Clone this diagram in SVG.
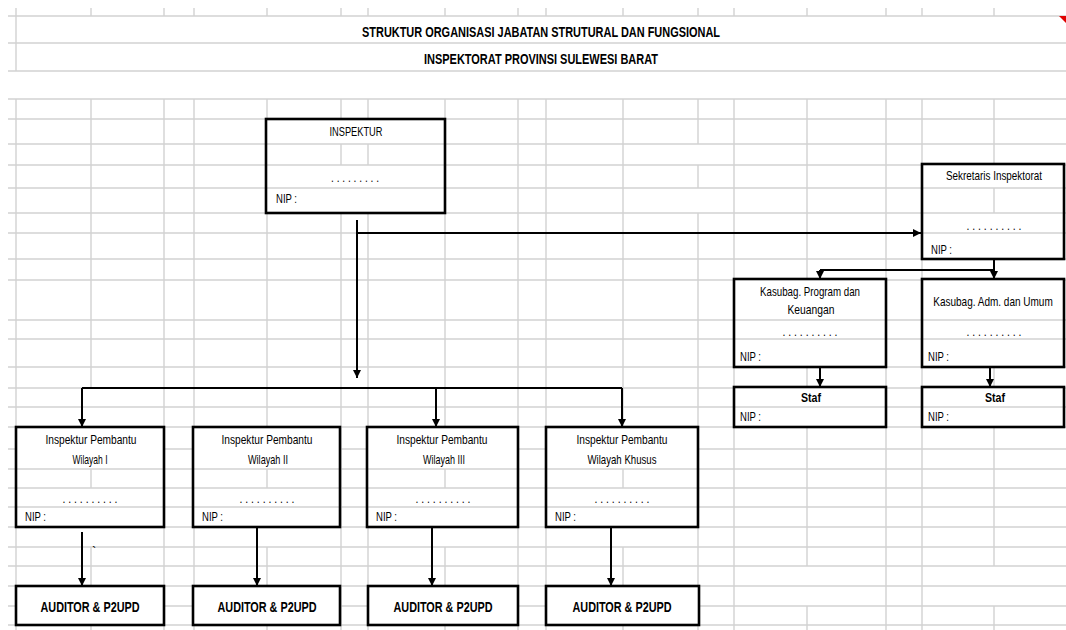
<svg xmlns="http://www.w3.org/2000/svg" width="1066" height="630" viewBox="0 0 1066 630">
<style>
.grid{stroke:#d2d2d2;stroke-width:1.4;fill:none}
.box{fill:none;stroke:#000;stroke-width:2.6}
.bg{fill:#fff;stroke:none}
.conn{stroke:#000;stroke-width:2;fill:none}
.t{font-family:"Liberation Sans Narrow","Liberation Sans",Arial,sans-serif;font-size:13px;fill:#000}
.c{text-anchor:middle}
.b{font-weight:bold}
.title{font-family:"Liberation Sans Narrow","Liberation Sans",Arial,sans-serif;font-size:15px;font-weight:bold;text-anchor:middle;fill:#000}
.aud{font-family:"Liberation Sans Narrow","Liberation Sans",Arial,sans-serif;font-size:15px;font-weight:bold;text-anchor:middle;fill:#000}
</style>
<defs>
<marker id="ah" markerUnits="userSpaceOnUse" markerWidth="9" markerHeight="9" refX="8" refY="4" orient="auto">
<path d="M0,0 L8,4 L0,8 z" fill="#000"/>
</marker>
</defs>
<rect x="0" y="0" width="1066" height="630" fill="#fff"/>
<g id="grid">
<path class="grid" d="M8 16H1066 M8 43H1066 M8 71H1066 M8 99H1066 M8 119H1066 M8 144H1066 M8 165H1066 M8 188H1066 M8 213H1066 M8 233H1066 M8 259H1066 M8 280H1066 M8 320H1066 M8 339H1066 M8 367H1066 M8 388H1066 M8 407H1066 M8 427H1066 M8 449H1066 M8 469H1066 M8 488H1066 M8 507H1066 M8 527H1066 M8 547H1066 M8 566H1066 M8 586H1066 M8 606H1066 M8 625H1066"/>
<path class="grid" d="M16 8V71 M16 99V630 M91 8V16 M91 99V388 M91 427V527 M91 547V630 M164 8V16 M164 99V630 M194 8V16 M194 99V630 M267 8V16 M267 99V527 M267 547V630 M341 8V16 M341 99V630 M368 8V16 M368 99V630 M445 8V16 M445 99V527 M445 547V630 M518 8V16 M518 99V630 M546 8V16 M546 99V630 M623 8V16 M623 99V527 M623 547V630 M698 8V16 M698 99V144 M698 165V188 M698 213V630 M734 8V16 M734 99V630 M807 8V16 M807 99V566 M807 606V630 M886 8V16 M886 99V630 M922 8V16 M922 99V630 M994 8V16 M994 99V566 M994 606V630"/>
<polygon points="1059,16 1066,16 1066,23" fill="#e00000"/>
</g>
<g id="titles">
<text class="title" x="541" y="37" textLength="358" lengthAdjust="spacingAndGlyphs">STRUKTUR ORGANISASI JABATAN STRUTURAL DAN FUNGSIONAL</text>
<text class="title" x="541" y="64" textLength="234" lengthAdjust="spacingAndGlyphs">INSPEKTORAT  PROVINSI SULEWESI BARAT</text>
</g>
<g id="connectors">
<path class="conn" d="M357 220V378" marker-end="url(#ah)"/>
<path class="conn" d="M357 233H921" marker-end="url(#ah)"/>
<path class="conn" d="M82 388H622"/>
<path class="conn" d="M82 388V427" marker-end="url(#ah)"/>
<path class="conn" d="M436 388V427" marker-end="url(#ah)"/>
<path class="conn" d="M622 388V427" marker-end="url(#ah)"/>
<path class="conn" d="M994 259V270 M820 270H994"/>
<path class="conn" d="M820 270V279" marker-end="url(#ah)"/>
<path class="conn" d="M994 270V279" marker-end="url(#ah)"/>
<path class="conn" d="M820 367V387" marker-end="url(#ah)"/>
<path class="conn" d="M990 367V387" marker-end="url(#ah)"/>
<path class="conn" d="M82 532V586" marker-end="url(#ah)"/>
<path class="conn" d="M257 527V586" marker-end="url(#ah)"/>
<path class="conn" d="M432 527V586" marker-end="url(#ah)"/>
<path class="conn" d="M611 527V586" marker-end="url(#ah)"/>
</g>
<g id="inspektur">
<rect class="bg" x="266" y="119" width="179" height="94"/>
<path class="grid" d="M266 144H445 M266 165H445 M266 188H445 M341 144V165 M368 144V165"/>
<text class="t c" x="356" y="136" textLength="53" lengthAdjust="spacingAndGlyphs">INSPEKTUR</text>
<text class="t c" x="355" y="182" textLength="48" lengthAdjust="spacingAndGlyphs">. . . . . . . . .</text>
<text class="t" x="276" y="203" textLength="21" lengthAdjust="spacingAndGlyphs">NIP :</text>
<rect class="box" x="266" y="119" width="179" height="94"/>
</g>
<g id="sekretaris">
<rect class="bg" x="922" y="164" width="142" height="95"/>
<path class="grid" d="M922 188H1064 M922 213H1064 M922 233H1064 M994 188V213"/>
<text class="t c" transform="translate(994 180) scale(0.76 1)" x="0" y="0">Sekretaris Inspektorat</text>
<text class="t c" x="994" y="230" textLength="55" lengthAdjust="spacingAndGlyphs">. . . . . . . . . .</text>
<text class="t" x="931" y="254" textLength="21" lengthAdjust="spacingAndGlyphs">NIP :</text>
<rect class="box" x="922" y="164" width="142" height="95"/>
</g>
<g id="kasubag-program">
<rect class="bg" x="734" y="279" width="152" height="88"/>
<path class="grid" d="M734 320H886 M734 339H886"/>
<text class="t c" x="810" y="296" textLength="100" lengthAdjust="spacingAndGlyphs">Kasubag. Program dan</text>
<text class="t c" x="811" y="314" textLength="47" lengthAdjust="spacingAndGlyphs">Keuangan</text>
<text class="t c" x="810" y="336" textLength="55" lengthAdjust="spacingAndGlyphs">. . . . . . . . . .</text>
<text class="t" x="740" y="361" textLength="21" lengthAdjust="spacingAndGlyphs">NIP :</text>
<rect class="box" x="734" y="279" width="152" height="88"/>
</g>
<g id="kasubag-adm">
<rect class="bg" x="922" y="279" width="142" height="88"/>
<path class="grid" d="M922 320H1064 M922 339H1064"/>
<text class="t c" transform="translate(993 306) scale(0.77 1)" x="0" y="0">Kasubag. Adm. dan Umum</text>
<text class="t c" x="994" y="336" textLength="55" lengthAdjust="spacingAndGlyphs">. . . . . . . . . .</text>
<text class="t" x="928" y="361" textLength="21" lengthAdjust="spacingAndGlyphs">NIP :</text>
<rect class="box" x="922" y="279" width="142" height="88"/>
</g>
<g id="staf-1">
<rect class="bg" x="734" y="387" width="152" height="40"/>
<path class="grid" d="M734 407H886"/>
<text class="t c b" x="811" y="402" textLength="20" lengthAdjust="spacingAndGlyphs">Staf</text>
<text class="t" x="740" y="421" textLength="21" lengthAdjust="spacingAndGlyphs">NIP :</text>
<rect class="box" x="734" y="387" width="152" height="40"/>
</g>
<g id="staf-2">
<rect class="bg" x="922" y="387" width="142" height="40"/>
<path class="grid" d="M922 407H1064"/>
<text class="t c b" x="995" y="402" textLength="20" lengthAdjust="spacingAndGlyphs">Staf</text>
<text class="t" x="928" y="421" textLength="21" lengthAdjust="spacingAndGlyphs">NIP :</text>
<rect class="box" x="922" y="387" width="142" height="40"/>
</g>
<g id="wilayah-1">
<rect class="bg" x="16" y="427" width="148" height="100"/>
<path class="grid" d="M16 469H164 M16 488H164 M16 507H164 M91 469V488"/>
<text class="t c" x="91" y="444" textLength="91" lengthAdjust="spacingAndGlyphs">Inspektur Pembantu</text>
<text class="t c" x="90" y="464" textLength="35" lengthAdjust="spacingAndGlyphs">Wilayah I</text>
<text class="t c" x="90" y="503" textLength="55" lengthAdjust="spacingAndGlyphs">. . . . . . . . . .</text>
<text class="t" x="25" y="521" textLength="21" lengthAdjust="spacingAndGlyphs">NIP :</text>
<rect class="box" x="16" y="427" width="148" height="100"/>
</g>
<g id="wilayah-2">
<rect class="bg" x="193" y="427" width="147" height="100"/>
<path class="grid" d="M193 469H340 M193 488H340 M193 507H340 M267 469V488"/>
<text class="t c" x="267" y="444" textLength="91" lengthAdjust="spacingAndGlyphs">Inspektur Pembantu</text>
<text class="t c" x="268" y="464" textLength="40" lengthAdjust="spacingAndGlyphs">Wilayah II</text>
<text class="t c" x="267" y="503" textLength="55" lengthAdjust="spacingAndGlyphs">. . . . . . . . . .</text>
<text class="t" x="202" y="521" textLength="21" lengthAdjust="spacingAndGlyphs">NIP :</text>
<rect class="box" x="193" y="427" width="147" height="100"/>
</g>
<g id="wilayah-3">
<rect class="bg" x="367" y="427" width="151" height="100"/>
<path class="grid" d="M367 469H518 M367 488H518 M367 507H518 M445 469V488"/>
<text class="t c" x="442" y="444" textLength="91" lengthAdjust="spacingAndGlyphs">Inspektur Pembantu</text>
<text class="t c" x="444" y="464" textLength="42" lengthAdjust="spacingAndGlyphs">Wilayah III</text>
<text class="t c" x="443" y="503" textLength="55" lengthAdjust="spacingAndGlyphs">. . . . . . . . . .</text>
<text class="t" x="376" y="521" textLength="21" lengthAdjust="spacingAndGlyphs">NIP :</text>
<rect class="box" x="367" y="427" width="151" height="100"/>
</g>
<g id="wilayah-khusus">
<rect class="bg" x="546" y="427" width="152" height="100"/>
<path class="grid" d="M546 469H698 M546 488H698 M546 507H698 M623 469V488"/>
<text class="t c" x="622" y="444" textLength="91" lengthAdjust="spacingAndGlyphs">Inspektur Pembantu</text>
<text class="t c" x="622" y="464" textLength="69" lengthAdjust="spacingAndGlyphs">Wilayah Khusus</text>
<text class="t c" x="622" y="503" textLength="55" lengthAdjust="spacingAndGlyphs">. . . . . . . . . .</text>
<text class="t" x="555" y="521" textLength="21" lengthAdjust="spacingAndGlyphs">NIP :</text>
<rect class="box" x="546" y="427" width="152" height="100"/>
</g>
<text class="t" x="92" y="556" font-size="10">`</text>
<g id="auditor-1">
<rect class="bg" x="16" y="586" width="148" height="39"/>
<text class="aud" x="90" y="612" textLength="99" lengthAdjust="spacingAndGlyphs">AUDITOR &amp; P2UPD</text>
<rect class="box" x="16" y="586" width="148" height="39"/>
</g>
<g id="auditor-2">
<rect class="bg" x="193" y="586" width="147" height="39"/>
<text class="aud" x="267" y="612" textLength="99" lengthAdjust="spacingAndGlyphs">AUDITOR &amp; P2UPD</text>
<rect class="box" x="193" y="586" width="147" height="39"/>
</g>
<g id="auditor-3">
<rect class="bg" x="368" y="586" width="150" height="39"/>
<text class="aud" x="443" y="612" textLength="99" lengthAdjust="spacingAndGlyphs">AUDITOR &amp; P2UPD</text>
<rect class="box" x="368" y="586" width="150" height="39"/>
</g>
<g id="auditor-4">
<rect class="bg" x="546" y="586" width="153" height="39"/>
<text class="aud" x="622" y="612" textLength="99" lengthAdjust="spacingAndGlyphs">AUDITOR &amp; P2UPD</text>
<rect class="box" x="546" y="586" width="153" height="39"/>
</g>
</svg>
